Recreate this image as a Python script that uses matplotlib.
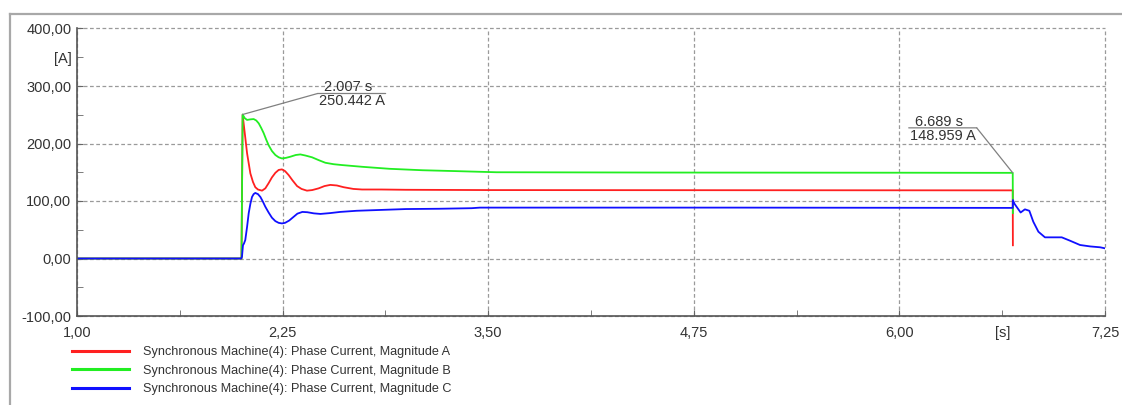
import matplotlib
matplotlib.use("Agg")
import matplotlib.pyplot as plt
from matplotlib.lines import Line2D
from matplotlib.ticker import FixedLocator, FixedFormatter
from matplotlib.transforms import offset_copy

plt.rcParams['font.family'] = ['Liberation Sans', 'DejaVu Sans']

# phase A current magnitude
t_a = [1.00, 2.000, 2.007, 2.020, 2.034, 2.054, 2.070, 2.084, 2.100, 2.125, 2.145, 2.165,
       2.185, 2.206, 2.226, 2.246, 2.265, 2.287, 2.310, 2.338, 2.365, 2.398, 2.430, 2.469,
       2.505, 2.540, 2.580, 2.621, 2.680, 2.733, 2.850, 3.000, 3.500, 6.689, 6.690]
i_a = [0, 0, 250.0, 218, 183, 148, 133, 124, 120, 118, 122, 131,
       141, 149, 154, 155, 152, 145, 136, 126, 121, 118, 119, 122,
       126, 128, 127, 124, 121, 120, 120, 119.5, 119, 118.5, 23]

# phase B current magnitude
t_b = [1.00, 2.000, 2.007, 2.020, 2.034, 2.055, 2.074, 2.090, 2.105, 2.120, 2.135, 2.150,
       2.165, 2.185, 2.206, 2.226, 2.246, 2.270, 2.297, 2.330, 2.358, 2.390, 2.429, 2.470,
       2.510, 2.560, 2.611, 2.733, 2.900, 3.100, 3.300, 3.550, 4.500, 6.000, 6.689, 6.690]
i_b = [0, 0, 250.442, 244, 241, 242, 242.5, 240, 235, 227, 218, 207,
       197, 187, 180, 176, 174, 175, 177, 180, 181, 179, 176, 171,
       166.5, 164, 162.5, 159.5, 156, 153.5, 152, 150, 149.5, 149.2, 148.959, 79]

# phase C current magnitude
t_c = [1.00, 1.998, 2.003, 2.009, 2.015, 2.023, 2.034, 2.044, 2.054, 2.064, 2.074, 2.084,
       2.100, 2.115, 2.130, 2.145, 2.165, 2.185, 2.206, 2.226, 2.246, 2.265, 2.290, 2.315,
       2.340, 2.370, 2.400, 2.440, 2.480, 2.540, 2.600, 2.700, 2.850, 3.000, 3.200, 3.400,
       3.450, 5.000, 6.689, 6.690, 6.700, 6.737, 6.763, 6.790, 6.814, 6.845, 6.885, 6.987,
       7.037, 7.098, 7.160, 7.220, 7.250]
i_c = [0, 0, 3, 23, 26, 32, 55, 79, 95, 107, 112, 114,
       112, 107, 99, 90, 80, 71, 65, 62, 61, 62, 66, 72,
       78, 81, 80.5, 78.5, 77.5, 79, 81, 83, 84.5, 86, 86.5, 87.5,
       88.5, 88.5, 88, 101.7, 95, 80, 85.5, 83, 64, 46.6, 36.8, 36.8,
       31, 23.5, 21, 19.5, 17.7]

labels = ['Synchronous Machine(4): Phase Current, Magnitude A',
          'Synchronous Machine(4): Phase Current, Magnitude B',
          'Synchronous Machine(4): Phase Current, Magnitude C']
colors = ['#ff2020', '#22ee22', '#1010ff']

x_major = [1.00, 2.25, 3.50, 4.75, 6.00, 7.25]
x_major_lbl = ['1,00', '2,25', '3,50', '4,75', '6,00', '7,25']
x_minor = [1.625, 2.875, 4.125, 5.375, 6.625]
x_minor_lbl = ['', '', '', '', '[s]']
y_major = [-100, 0, 100, 200, 300, 400]
y_major_lbl = ['-100,00', '0,00', '100,00', '200,00', '300,00', '400,00']
y_minor = [-50, 50, 150, 250, 350]
y_minor_lbl = ['', '', '', '', '[A]']

# markers with their readouts
marks = [(2.007, 250.442), (6.689, 148.959)]

fig = plt.figure(figsize=(11.22, 4.05), dpi=100)
ax = fig.add_axes([77 / 1122, 1 - 316 / 405, 1028 / 1122, 287.5 / 405])

ax.plot(t_a, i_a, color=colors[0], lw=1.3)
ax.plot(t_b, i_b, color=colors[1], lw=1.3)
ax.plot(t_c, i_c, color=colors[2], lw=1.3)

ax.set_xlim(1.0, 7.25)
ax.set_ylim(-100, 400)
ax.xaxis.set_major_locator(FixedLocator(x_major))
ax.xaxis.set_major_formatter(FixedFormatter(x_major_lbl))
ax.xaxis.set_minor_locator(FixedLocator(x_minor))
ax.xaxis.set_minor_formatter(FixedFormatter(x_minor_lbl))
ax.yaxis.set_major_locator(FixedLocator(y_major))
ax.yaxis.set_major_formatter(FixedFormatter(y_major_lbl))
ax.yaxis.set_minor_locator(FixedLocator(y_minor))
ax.yaxis.set_minor_formatter(FixedFormatter(y_minor_lbl))

ax.tick_params(which='both', direction='in', length=4, color='#666666',
               labelsize=10.5, labelcolor='#333333')
ax.tick_params(axis='x', which='both', pad=7)
ax.tick_params(axis='y', which='both', pad=4)
ax.grid(True, which='major', color='#9a9a9a', linestyle=(0, (3, 2)), lw=0.9)
for gl in ax.get_xgridlines() + ax.get_ygridlines():
    gl.set_clip_on(False)
ax.set_axisbelow(True)
for s in ['top', 'right']:
    ax.spines[s].set_visible(False)
for s in ['left', 'bottom']:
    ax.spines[s].set_color('#555555')
    ax.spines[s].set_linewidth(1.2)

# readout callouts: leader line, underline and two lines of text
callouts = [dict(elbow=(75, 21), end=143), dict(elbow=(-36, 45), end=-104)]
line_style = dict(arrowstyle='-', color='#808080', lw=0.9, shrinkA=0, shrinkB=0)
for (tx, val), c in zip(marks, callouts):
    ex, ey = c['elbow']
    ax.annotate('', xy=(tx, val), xytext=(ex, ey), textcoords='offset pixels',
                arrowprops=line_style)
    elbow_tr = offset_copy(ax.transData, fig=fig, x=ex, y=ey, units='dots')
    ax.annotate('', xy=(tx, val), xycoords=elbow_tr,
                xytext=(c['end'] - ex, 0), textcoords='offset pixels',
                arrowprops=line_style, annotation_clip=False)
    mid = (ex + c['end']) / 2
    ax.annotate('{:.3f} s'.format(tx), xy=(tx, val), xytext=(mid - 4, ey + 2),
                textcoords='offset pixels', ha='center', va='baseline',
                fontsize=10.5, color='#333333')
    ax.annotate('{:.3f} A'.format(val), xy=(tx, val), xytext=(mid, ey - 1),
                textcoords='offset pixels', ha='center', va='top',
                fontsize=10.5, color='#333333')

handles = [Line2D([], [], color=c, lw=2.2) for c in colors]
fig.legend(handles, labels, loc='upper left', bbox_to_anchor=(67 / 1122, 1 - 341 / 405),
           frameon=False, fontsize=9.1, handlelength=4.5, handletextpad=1.1,
           labelspacing=0.52, labelcolor='#333333', borderaxespad=0)

# outer panel frame
fig.add_artist(Line2D([9.5 / 1122, 9.5 / 1122], [0, 1 - 14 / 405],
                      transform=fig.transFigure, color='#a8a8a8', lw=1.6))
fig.add_artist(Line2D([9.5 / 1122, 1], [1 - 14 / 405, 1 - 14 / 405],
                      transform=fig.transFigure, color='#a8a8a8', lw=1.6))

fig.savefig('out.png', dpi=100)
